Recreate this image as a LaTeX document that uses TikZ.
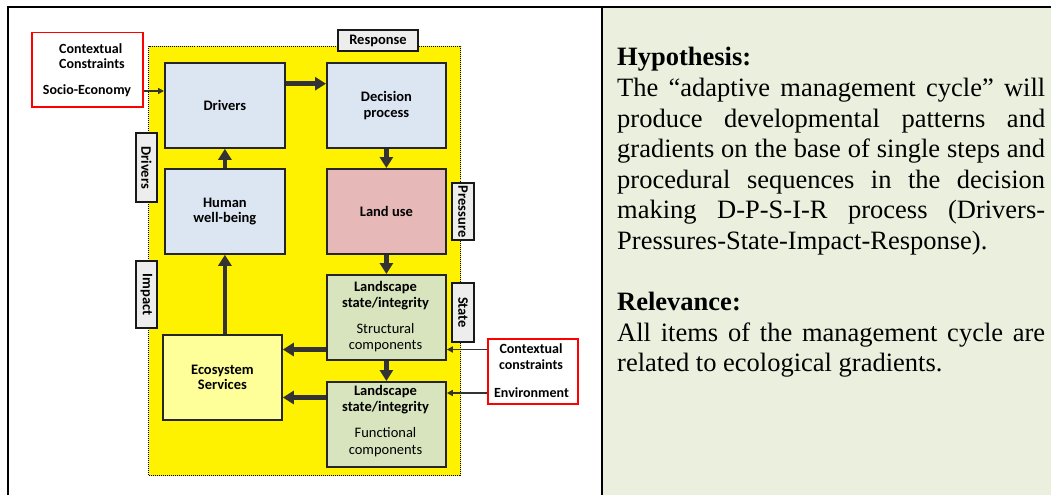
\documentclass[tikz,border=0pt]{standalone}
\usepackage{fontspec}
\setmainfont{Liberation Serif}
\newfontfamily\calibri{Carlito}
\usetikzlibrary{arrows.meta,calc}

\definecolor{panelgreen}{HTML}{EAF0DD}
\definecolor{boxblue}{HTML}{DCE6F2}
\definecolor{boxpink}{HTML}{E6B9B8}
\definecolor{boxgreen}{HTML}{D7E4BD}
\definecolor{boxyellow}{HTML}{FFFF99}
\definecolor{taggray}{HTML}{EDEDED}
\definecolor{arrowgray}{HTML}{333333}
\definecolor{framered}{HTML}{FF0000}

\tikzset{
  region/.style={draw=black, fill=yellow, line width=1pt,
    dash pattern=on 1pt off 1pt, anchor=north west, inner sep=0pt},
  box/.style={draw=black!85, line width=1.8pt, anchor=north west,
    inner sep=0pt, align=center, font=\calibri\bfseries\fontsize{14.5}{15.5}\selectfont},
  boxtext/.style={align=center, inner sep=0pt},
  tag/.style={draw=black!90, fill=taggray, line width=1.5pt, inner sep=0pt,
    font=\calibri\bfseries\fontsize{14.5}{15.5}\selectfont},
  ctxbox/.style={draw=framered, line width=1.5pt, fill=white, anchor=north west, inner sep=0pt},
  ctxtext/.style={inner sep=0pt, align=center, font=\calibri\bfseries\fontsize{14}{15.5}\selectfont},
  bigarrow/.style={draw=arrowgray, line width=4.5pt, -{Triangle[length=11pt,width=13pt]}},
  thinarrow/.style={draw=arrowgray, line width=1.8pt, -{Triangle[length=6pt,width=6pt]}},
  paneltext/.style={anchor=base west, inner sep=0pt, font=\fontsize{26.5}{30.6}\selectfont},
}

\newcommand{\fullline}[1]{\makebox[428pt][s]{#1}}

\begin{document}
\begin{tikzpicture}[x=1pt,y=-1pt, font=\calibri\fontsize{14.5}{15.5}\selectfont]
  \useasboundingbox (0,0) rectangle (1051,495);
  \fill[white] (0,0) rectangle (1051,495);

  % right-hand text panel
  \fill[panelgreen] (603,8) rectangle (1051,495);

  % table frame
  \draw[line width=2pt] (8,495) -- (8,7) -- (1051,7);
  \draw[line width=2pt] (602,7) -- (602,495);

  % management-cycle area
  \node[region, minimum width=312pt, minimum height=429pt] (cycle) at (148,46) {};

  % boxes of the cycle
  \node[box, fill=boxblue, minimum width=120pt, minimum height=85pt] (drivers) at (164,62) {Drivers};
  \node[box, fill=boxblue, minimum width=119pt, minimum height=85pt] (decision) at (326,62) {Decision\\process};
  \node[box, fill=boxpink, minimum width=119pt, minimum height=85pt] (landuse) at (326,168) {Land use};
  \node[box, fill=boxblue, minimum width=120pt, minimum height=85pt] (human) at (164,168) {Human\\well-being};
  \node[box, fill=boxgreen, minimum width=119pt, minimum height=85pt] (ls1) at (326,274) {};
  \node[box, fill=boxgreen, minimum width=119pt, minimum height=85pt] (ls2) at (326,381) {};
  \node[box, fill=boxyellow, minimum width=119pt, minimum height=85pt] (es) at (162,334) {Ecosystem\\Services};

  \node[boxtext, font=\calibri\bfseries\fontsize{14.5}{16.5}\selectfont] (ls1head) at (385.5,295.5) {Landscape\\state/integrity};
  \node[boxtext, font=\calibri\fontsize{14.5}{16}\selectfont] (ls1sub) at (385.5,338) {Structural\\components};
  \node[boxtext, font=\calibri\bfseries\fontsize{14.5}{16.5}\selectfont] (ls2head) at (385.5,399.5) {Landscape\\state/integrity};
  \node[boxtext, font=\calibri\fontsize{14.5}{17.5}\selectfont] (ls2sub) at (385.5,442) {Functional\\components};

  % DPSIR tags
  \node[tag, minimum width=80pt, minimum height=21pt] (tagresp) at (378,40.5) {Response};
  \node[tag, rotate=-90, minimum width=69pt, minimum height=21pt] (tagdrv) at (146.5,167.5) {Drivers};
  \node[tag, rotate=-90, minimum width=67pt, minimum height=21pt] (tagimp) at (146.5,294.5) {Impact};
  \node[tag, rotate=-90, minimum width=57pt, minimum height=22pt] (tagpres) at (463,211.5) {Pressure};
  \node[tag, rotate=-90, minimum width=59pt, minimum height=22pt] (tagstate) at (463,312.5) {State};

  % contextual constraints
  \node[ctxbox, minimum width=111pt, minimum height=74pt] (ctxsoc) at (31,32) {};
  \node[ctxtext, align=left, anchor=west] (ctxsochead) at (59,56) {Contextual\\Constraints};
  \node[ctxtext] (ctxsoceco) at (87,91) {Socio-Economy};
  \node[ctxbox, minimum width=90pt, minimum height=65pt] (ctxenv) at (487,338) {};
  \node[ctxtext] (ctxenvhead) at (531,356.5) {Contextual\\constraints};
  \node[ctxtext] (ctxenvenv) at (531.5,393) {Environment};

  % cycle arrows
  \draw[bigarrow] ($(drivers.north east)!0.25!(drivers.south east)$) -- ($(decision.north west)!0.25!(decision.south west)$);
  \draw[bigarrow] (decision.south) -- (landuse.north);
  \draw[bigarrow] (landuse.south) -- (ls1.north);
  \draw[bigarrow] (ls1.south) -- (ls2.north);
  \draw[bigarrow] (human.north) -- (drivers.south);
  \draw[bigarrow] (human.south |- es.north) -- (human.south);
  \coordinate (ls1out) at ($(ls1.north west)!0.87!(ls1.south west)$);
  \coordinate (ls2out) at ($(ls2.north west)!0.19!(ls2.south west)$);
  \draw[bigarrow] (ls1out) -- (ls1out -| es.east);
  \draw[bigarrow] (ls2out) -- (ls2out -| es.east);

  % context arrows
  \draw[thinarrow] (ctxsoc.east |- ctxsoceco) -- (drivers.west |- ctxsoceco);
  \coordinate (envin1) at (ctxenv.west |- ls1out);
  \coordinate (envin2) at (ctxenv.west |- ctxenvenv);
  \draw[thinarrow] (envin1) -- (envin1 -| ls1.east);
  \draw[thinarrow] (envin2) -- (envin2 -| ls2.east);

  % panel text
  \node[paneltext] (hyp) at (617,65) {\textbf{Hypothesis:}};
  \node[paneltext] (h1) at (617,96) {\fullline{The “adaptive management cycle” will}};
  \node[paneltext] (h2) at (617,127) {\fullline{produce developmental patterns and}};
  \node[paneltext] (h3) at (617,157) {\fullline{gradients on the base of single steps and}};
  \node[paneltext] (h4) at (617,188) {\fullline{procedural sequences in the decision}};
  \node[paneltext] (h5) at (617,218) {\fullline{making D-P-S-I-R process (Drivers-}};
  \node[paneltext] (h6) at (617,249) {Pressures-State-Impact-Response).};
  \node[paneltext] (rel) at (617,310) {\textbf{Relevance:}};
  \node[paneltext] (r1) at (617,341) {\fullline{All items of the management cycle are}};
  \node[paneltext] (r2) at (617,371) {related to ecological gradients.};
\end{tikzpicture}
\end{document}
